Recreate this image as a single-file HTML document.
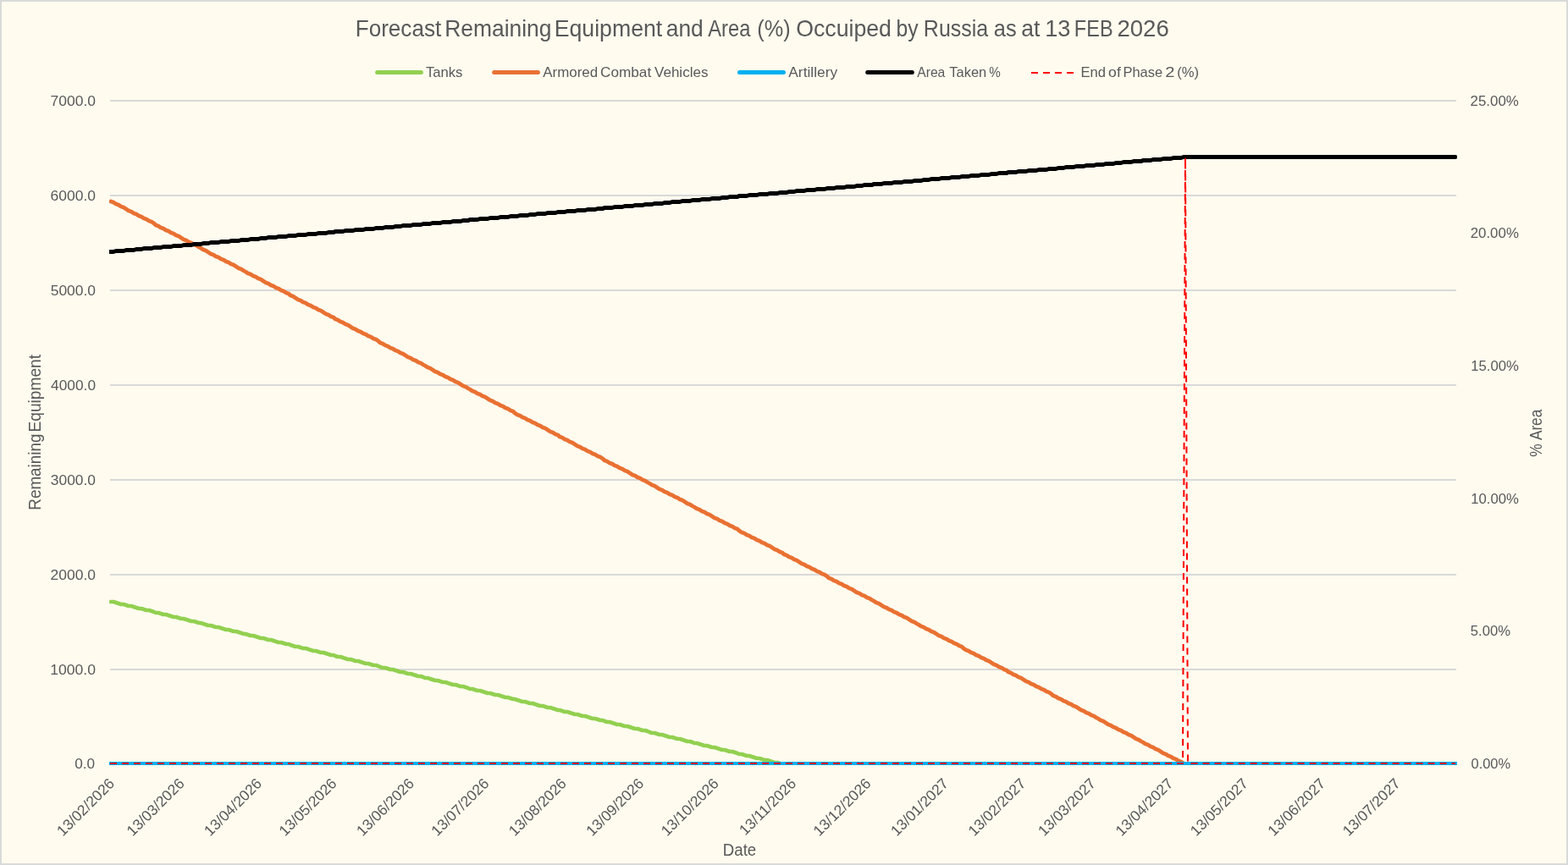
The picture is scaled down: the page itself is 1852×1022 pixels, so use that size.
<!DOCTYPE html>
<html lang="en"><head><meta charset="utf-8">
<title>Forecast Remaining Equipment and Area (%) Occuiped by Russia as at 13 FEB 2026</title>
<style>
html,body{margin:0;padding:0;background:#FFFBEF;}
body{width:1852px;height:1022px;overflow:hidden;}
svg{display:block;font-family:"Liberation Sans", Arial, sans-serif;}
text{fill:#595959;}
.t{font-size:27.3px;}
.lg{font-size:16.6px;}
.ax{font-size:17.0px;}
.at{font-size:20.5px;}
.s{fill:none;stroke-width:4.4;stroke-linecap:round;stroke-linejoin:round;}
</style></head><body>
<svg width="1852" height="1022" viewBox="0 0 1852 1022" role="img" aria-label="Forecast Remaining Equipment and Area (%) Occuiped by Russia as at 13 FEB 2026">
<rect x="0" y="0" width="1852" height="1022" fill="#D9D9D9"/>
<rect x="2" y="2" width="1848" height="1018" fill="#FFFBEF"/>
<text class="t" y="42.8"><tspan x="419.75" textLength="101.44" lengthAdjust="spacingAndGlyphs">Forecast</tspan> <tspan x="525.22" textLength="126.27" lengthAdjust="spacingAndGlyphs">Remaining</tspan> <tspan x="654.70" textLength="127.54" lengthAdjust="spacingAndGlyphs">Equipment</tspan> <tspan x="786.71" textLength="44.02" lengthAdjust="spacingAndGlyphs">and</tspan> <tspan x="836.29" textLength="50.05" lengthAdjust="spacingAndGlyphs">Area</tspan> <tspan x="894.28" textLength="39.30" lengthAdjust="spacingAndGlyphs">(%)</tspan> <tspan x="940.18" textLength="112.81" lengthAdjust="spacingAndGlyphs">Occuiped</tspan> <tspan x="1058.52" textLength="26.07" lengthAdjust="spacingAndGlyphs">by</tspan> <tspan x="1090.84" textLength="76.42" lengthAdjust="spacingAndGlyphs">Russia</tspan> <tspan x="1173.85" textLength="26.85" lengthAdjust="spacingAndGlyphs">as</tspan> <tspan x="1206.21" textLength="22.13" lengthAdjust="spacingAndGlyphs">at</tspan> <tspan x="1234.18" textLength="30.26" lengthAdjust="spacingAndGlyphs">13</tspan> <tspan x="1268.86" textLength="45.70" lengthAdjust="spacingAndGlyphs">FEB</tspan> <tspan x="1319.41" textLength="61.34" lengthAdjust="spacingAndGlyphs">2026</tspan></text>
<line class="s" style="stroke-width:5" x1="445.6" y1="85.5" x2="497.4" y2="85.5" stroke="#92D050"/>
<line class="s" style="stroke-width:5" x1="583.7" y1="85.5" x2="635.4" y2="85.5" stroke="#E97132"/>
<line class="s" style="stroke-width:5" x1="873.5" y1="85.5" x2="925.5" y2="85.5" stroke="#00B0F0"/>
<line class="s" style="stroke-width:5" x1="1024.7" y1="85.5" x2="1077.3" y2="85.5" stroke="#000000"/>
<line x1="1218" y1="85.9" x2="1268" y2="85.9" stroke="#FF0000" stroke-width="2" stroke-dasharray="8 6"/>
<g class="lg">
<text y="90.6"><tspan x="502.92" textLength="43.49" lengthAdjust="spacingAndGlyphs">Tanks</tspan></text>
<text y="90.6"><tspan x="641.30" textLength="64.86" lengthAdjust="spacingAndGlyphs">Armored</tspan> <tspan x="709.09" textLength="60.12" lengthAdjust="spacingAndGlyphs">Combat</tspan> <tspan x="772.97" textLength="63.51" lengthAdjust="spacingAndGlyphs">Vehicles</tspan></text>
<text y="90.6"><tspan x="931.30" textLength="57.78" lengthAdjust="spacingAndGlyphs">Artillery</tspan></text>
<text y="90.6"><tspan x="1083.20" textLength="33.16" lengthAdjust="spacingAndGlyphs">Area</tspan> <tspan x="1121.33" textLength="43.89" lengthAdjust="spacingAndGlyphs">Taken</tspan> <tspan x="1168.33" textLength="13.56" lengthAdjust="spacingAndGlyphs">%</tspan></text>
<text y="90.6"><tspan x="1276.53" textLength="29.53" lengthAdjust="spacingAndGlyphs">End</tspan> <tspan x="1309.11" textLength="14.66" lengthAdjust="spacingAndGlyphs">of</tspan> <tspan x="1326.43" textLength="46.77" lengthAdjust="spacingAndGlyphs">Phase</tspan> <tspan x="1376.34" textLength="11.20" lengthAdjust="spacingAndGlyphs">2</tspan> <tspan x="1390.30" textLength="25.87" lengthAdjust="spacingAndGlyphs">(%)</tspan></text>
</g>
<g fill="#D9D9D9">
<rect x="130" y="790" width="1590" height="2"/>
<rect x="130" y="678" width="1590" height="2"/>
<rect x="130" y="566" width="1590" height="2"/>
<rect x="130" y="454" width="1590" height="2"/>
<rect x="130" y="342" width="1590" height="2"/>
<rect x="130" y="230" width="1590" height="2"/>
<rect x="130" y="118" width="1590" height="2"/>
</g>
<g class="ax">
<text transform="matrix(1.0101 0 0 1 88.17 908)">0.0</text>
<text transform="matrix(1.0354 0 0 1 59.21 797)">1000.0</text>
<text transform="matrix(1.0277 0 0 1 59.60 685)">2000.0</text>
<text transform="matrix(1.0227 0 0 1 59.86 573)">3000.0</text>
<text transform="matrix(1.0176 0 0 1 60.12 461)">4000.0</text>
<text transform="matrix(1.0252 0 0 1 59.73 349)">5000.0</text>
<text transform="matrix(1.0277 0 0 1 59.60 237)">6000.0</text>
<text transform="matrix(1.0277 0 0 1 59.60 125)">7000.0</text>
<text transform="matrix(0.9681 0 0 1 1737.49 908)">0.00%</text>
<text transform="matrix(0.9792 0 0 1 1736.77 751)">5.00%</text>
<text transform="matrix(0.9848 0 0 1 1737.17 595)">10.00%</text>
<text transform="matrix(0.9865 0 0 1 1737.17 438)">15.00%</text>
<text transform="matrix(0.9942 0 0 1 1736.63 281)">20.00%</text>
<text transform="matrix(0.9960 0 0 1 1736.53 125)">25.00%</text>
</g>
<svg x="129" y="100" width="1592" height="804" viewBox="129 100 1592 804" overflow="hidden">
<polyline class="s" points="131,711 134,711 137,712 140,713 143,714 146,714 149,715 152,716 155,716 158,717 161,718 164,719 167,719 170,720 173,721 176,721 179,722 182,723 184,724 187,724 190,725 193,726 196,726 199,727 202,728 205,729 208,729 211,730 214,731 217,731 220,732 223,733 226,734 229,734 232,735 235,736 237,736 240,737 243,738 246,739 249,739 252,740 255,741 258,741 261,742 264,743 267,744 270,744 273,745 276,746 279,746 282,747 285,748 288,749 290,749 293,750 296,751 299,751 302,752 305,753 308,754 311,754 314,755 317,756 320,756 323,757 326,758 329,759 332,759 335,760 338,761 341,761 343,762 346,763 349,764 352,764 355,765 358,766 361,766 364,767 367,768 370,769 373,769 376,770 379,771 382,771 385,772 388,773 391,774 394,774 396,775 399,776 402,776 405,777 408,778 411,779 414,779 417,780 420,781 423,781 426,782 429,783 432,784 435,784 438,785 441,786 444,786 447,787 449,788 452,789 455,789 458,790 461,791 464,791 467,792 470,793 473,794 476,794 479,795 482,796 485,796 488,797 491,798 494,799 497,799 500,800 502,801 505,801 508,802 511,803 514,804 517,804 520,805 523,806 526,806 529,807 532,808 535,809 538,809 541,810 544,811 547,811 550,812 553,813 555,814 558,814 561,815 564,816 567,816 570,817 573,818 576,819 579,819 582,820 585,821 588,821 591,822 594,823 597,824 600,824 603,825 606,826 608,826 611,827 614,828 617,829 620,829 623,830 626,831 629,831 632,832 635,833 638,834 641,834 644,835 647,836 650,836 653,837 656,838 659,839 661,839 664,840 667,841 670,841 673,842 676,843 679,844 682,844 685,845 688,846 691,846 694,847 697,848 700,849 703,849 706,850 709,851 712,851 714,852 717,853 720,853 723,854 726,855 729,856 732,856 735,857 738,858 741,858 744,859 747,860 750,861 753,861 756,862 759,863 762,863 765,864 767,865 770,866 773,866 776,867 779,868 782,868 785,869 788,870 791,871 794,871 797,872 800,873 803,873 806,874 809,875 812,876 815,876 818,877 820,878 823,878 826,879 829,880 832,881 835,881 838,882 841,883 844,883 847,884 850,885 853,886 856,886 859,887 862,888 865,888 868,889 871,890 873,891 876,891 879,892 882,893 885,893 888,894 891,895 894,896 897,896 900,897 903,898 906,898 909,899 912,900 915,901 918,901 921,902" stroke="#92D050" style="stroke-width:4.7"/>
<polyline class="s" points="131,238 134,239 137,241 140,242 143,244 146,245 149,247 152,249 155,250 158,252 161,253 164,255 167,256 170,258 173,259 176,261 179,262 182,264 184,266 187,267 190,269 193,270 196,272 199,273 202,275 205,276 208,278 211,279 214,281 217,283 220,284 223,286 226,287 229,289 232,290 235,292 237,293 240,295 243,296 246,298 249,300 252,301 255,303 258,304 261,306 264,307 267,309 270,310 273,312 276,313 279,315 282,317 285,318 288,320 290,321 293,323 296,324 299,326 302,327 305,329 308,330 311,332 314,334 317,335 320,337 323,338 326,340 329,341 332,343 335,344 338,346 341,347 343,349 346,350 349,352 352,354 355,355 358,357 361,358 364,360 367,361 370,363 373,364 376,366 379,367 382,369 385,371 388,372 391,374 394,375 396,377 399,378 402,380 405,381 408,383 411,384 414,386 417,388 420,389 423,391 426,392 429,394 432,395 435,397 438,398 441,400 444,401 447,403 449,405 452,406 455,408 458,409 461,411 464,412 467,414 470,415 473,417 476,418 479,420 482,422 485,423 488,425 491,426 494,428 497,429 500,431 502,432 505,434 508,435 511,437 514,439 517,440 520,442 523,443 526,445 529,446 532,448 535,449 538,451 541,452 544,454 547,456 550,457 553,459 555,460 558,462 561,463 564,465 567,466 570,468 573,469 576,471 579,473 582,474 585,476 588,477 591,479 594,480 597,482 600,483 603,485 606,486 608,488 611,490 614,491 617,493 620,494 623,496 626,497 629,499 632,500 635,502 638,503 641,505 644,506 647,508 650,510 653,511 656,513 659,514 661,516 664,517 667,519 670,520 673,522 676,523 679,525 682,527 685,528 688,530 691,531 694,533 697,534 700,536 703,537 706,539 709,540 712,542 714,544 717,545 720,547 723,548 726,550 729,551 732,553 735,554 738,556 741,557 744,559 747,561 750,562 753,564 756,565 759,567 762,568 765,570 767,571 770,573 773,574 776,576 779,578 782,579 785,581 788,582 791,584 794,585 797,587 800,588 803,590 806,591 809,593 812,595 815,596 818,598 820,599 823,601 826,602 829,604 832,605 835,607 838,608 841,610 844,612 847,613 850,615 853,616 856,618 859,619 862,621 865,622 868,624 871,625 873,627 876,629 879,630 882,632 885,633 888,635 891,636 894,638 897,639 900,641 903,642 906,644 909,645 912,647 915,649 918,650 921,652 924,653 926,655 929,656 932,658 935,659 938,661 941,662 944,664 947,666 950,667 953,669 956,670 959,672 962,673 965,675 968,676 971,678 974,679 977,681 979,683 982,684 985,686 988,687 991,689 994,690 997,692 1000,693 1003,695 1006,696 1009,698 1012,700 1015,701 1018,703 1021,704 1024,706 1027,707 1030,709 1032,710 1035,712 1038,713 1041,715 1044,717 1047,718 1050,720 1053,721 1056,723 1059,724 1062,726 1065,727 1068,729 1071,730 1074,732 1077,734 1080,735 1083,737 1085,738 1088,740 1091,741 1094,743 1097,744 1100,746 1103,747 1106,749 1109,751 1112,752 1115,754 1118,755 1121,757 1124,758 1127,760 1130,761 1133,763 1136,764 1138,766 1141,768 1144,769 1147,771 1150,772 1153,774 1156,775 1159,777 1162,778 1165,780 1168,781 1171,783 1174,785 1177,786 1180,788 1183,789 1186,791 1189,792 1191,794 1194,795 1197,797 1200,798 1203,800 1206,801 1209,803 1212,805 1215,806 1218,808 1221,809 1224,811 1227,812 1230,814 1233,815 1236,817 1239,818 1242,820 1244,822 1247,823 1250,825 1253,826 1256,828 1259,829 1262,831 1265,832 1268,834 1271,835 1274,837 1277,839 1280,840 1283,842 1286,843 1289,845 1292,846 1295,848 1297,849 1300,851 1303,852 1306,854 1309,856 1312,857 1315,859 1318,860 1321,862 1324,863 1327,865 1330,866 1333,868 1336,869 1339,871 1342,873 1345,874 1348,876 1350,877 1353,879 1356,880 1359,882 1362,883 1365,885 1368,886 1371,888 1374,890 1377,891 1380,893 1383,894 1386,896 1389,897 1392,899 1395,900 1398,902" stroke="#E97132" style="stroke-width:4.7"/>
<line x1="129" y1="902" x2="1721" y2="902" stroke="#00B0F0" stroke-width="4"/>
<polyline class="s" points="126,297.5 131,297.5 134,297.5 137,296.5 140,296.5 143,296.5 146,296.5 149,295.5 152,295.5 155,295.5 158,295.5 161,294.5 164,294.5 167,294.5 170,293.5 173,293.5 176,293.5 179,293.5 182,292.5 184,292.5 187,292.5 190,292.5 193,291.5 196,291.5 199,291.5 202,291.5 205,290.5 208,290.5 211,290.5 214,290.5 217,289.5 220,289.5 223,289.5 226,289.5 229,288.5 232,288.5 235,288.5 237,288.5 240,287.5 243,287.5 246,287.5 249,286.5 252,286.5 255,286.5 258,286.5 261,285.5 264,285.5 267,285.5 270,285.5 273,284.5 276,284.5 279,284.5 282,284.5 285,283.5 288,283.5 290,283.5 293,283.5 296,282.5 299,282.5 302,282.5 305,282.5 308,281.5 311,281.5 314,281.5 317,280.5 320,280.5 323,280.5 326,280.5 329,279.5 332,279.5 335,279.5 338,279.5 341,278.5 343,278.5 346,278.5 349,278.5 352,277.5 355,277.5 358,277.5 361,277.5 364,276.5 367,276.5 370,276.5 373,276.5 376,275.5 379,275.5 382,275.5 385,275.5 388,274.5 391,274.5 394,274.5 396,273.5 399,273.5 402,273.5 405,273.5 408,272.5 411,272.5 414,272.5 417,272.5 420,271.5 423,271.5 426,271.5 429,271.5 432,270.5 435,270.5 438,270.5 441,270.5 444,269.5 447,269.5 449,269.5 452,269.5 455,268.5 458,268.5 461,268.5 464,268.5 467,267.5 470,267.5 473,267.5 476,266.5 479,266.5 482,266.5 485,266.5 488,265.5 491,265.5 494,265.5 497,265.5 500,264.5 502,264.5 505,264.5 508,264.5 511,263.5 514,263.5 517,263.5 520,263.5 523,262.5 526,262.5 529,262.5 532,262.5 535,261.5 538,261.5 541,261.5 544,261.5 547,260.5 550,260.5 553,260.5 555,259.5 558,259.5 561,259.5 564,259.5 567,258.5 570,258.5 573,258.5 576,258.5 579,257.5 582,257.5 585,257.5 588,257.5 591,256.5 594,256.5 597,256.5 600,256.5 603,255.5 606,255.5 608,255.5 611,255.5 614,254.5 617,254.5 620,254.5 623,254.5 626,253.5 629,253.5 632,253.5 635,252.5 638,252.5 641,252.5 644,252.5 647,251.5 650,251.5 653,251.5 656,251.5 659,250.5 661,250.5 664,250.5 667,250.5 670,249.5 673,249.5 676,249.5 679,249.5 682,248.5 685,248.5 688,248.5 691,248.5 694,247.5 697,247.5 700,247.5 703,247.5 706,246.5 709,246.5 712,246.5 714,245.5 717,245.5 720,245.5 723,245.5 726,244.5 729,244.5 732,244.5 735,244.5 738,243.5 741,243.5 744,243.5 747,243.5 750,242.5 753,242.5 756,242.5 759,242.5 762,241.5 765,241.5 767,241.5 770,241.5 773,240.5 776,240.5 779,240.5 782,240.5 785,239.5 788,239.5 791,239.5 794,238.5 797,238.5 800,238.5 803,238.5 806,237.5 809,237.5 812,237.5 815,237.5 818,236.5 820,236.5 823,236.5 826,236.5 829,235.5 832,235.5 835,235.5 838,235.5 841,234.5 844,234.5 847,234.5 850,234.5 853,233.5 856,233.5 859,233.5 862,232.5 865,232.5 868,232.5 871,232.5 873,231.5 876,231.5 879,231.5 882,231.5 885,230.5 888,230.5 891,230.5 894,230.5 897,229.5 900,229.5 903,229.5 906,229.5 909,228.5 912,228.5 915,228.5 918,228.5 921,227.5 924,227.5 926,227.5 929,227.5 932,226.5 935,226.5 938,226.5 941,225.5 944,225.5 947,225.5 950,225.5 953,224.5 956,224.5 959,224.5 962,224.5 965,223.5 968,223.5 971,223.5 974,223.5 977,222.5 979,222.5 982,222.5 985,222.5 988,221.5 991,221.5 994,221.5 997,221.5 1000,220.5 1003,220.5 1006,220.5 1009,220.5 1012,219.5 1015,219.5 1018,219.5 1021,218.5 1024,218.5 1027,218.5 1030,218.5 1032,217.5 1035,217.5 1038,217.5 1041,217.5 1044,216.5 1047,216.5 1050,216.5 1053,216.5 1056,215.5 1059,215.5 1062,215.5 1065,215.5 1068,214.5 1071,214.5 1074,214.5 1077,214.5 1080,213.5 1083,213.5 1085,213.5 1088,213.5 1091,212.5 1094,212.5 1097,212.5 1100,211.5 1103,211.5 1106,211.5 1109,211.5 1112,210.5 1115,210.5 1118,210.5 1121,210.5 1124,209.5 1127,209.5 1130,209.5 1133,209.5 1136,208.5 1138,208.5 1141,208.5 1144,208.5 1147,207.5 1150,207.5 1153,207.5 1156,207.5 1159,206.5 1162,206.5 1165,206.5 1168,206.5 1171,205.5 1174,205.5 1177,205.5 1180,204.5 1183,204.5 1186,204.5 1189,204.5 1191,203.5 1194,203.5 1197,203.5 1200,203.5 1203,202.5 1206,202.5 1209,202.5 1212,202.5 1215,201.5 1218,201.5 1221,201.5 1224,201.5 1227,200.5 1230,200.5 1233,200.5 1236,200.5 1239,199.5 1242,199.5 1244,199.5 1247,199.5 1250,198.5 1253,198.5 1256,198.5 1259,197.5 1262,197.5 1265,197.5 1268,197.5 1271,196.5 1274,196.5 1277,196.5 1280,196.5 1283,195.5 1286,195.5 1289,195.5 1292,195.5 1295,194.5 1297,194.5 1300,194.5 1303,194.5 1306,193.5 1309,193.5 1312,193.5 1315,193.5 1318,192.5 1321,192.5 1324,192.5 1327,191.5 1330,191.5 1333,191.5 1336,191.5 1339,190.5 1342,190.5 1345,190.5 1348,190.5 1350,189.5 1353,189.5 1356,189.5 1359,189.5 1362,188.5 1365,188.5 1368,188.5 1371,188.5 1374,187.5 1377,187.5 1380,187.5 1383,187.5 1386,186.5 1389,186.5 1392,186.5 1395,186.5 1398,185.5 1401,185.5 1718.8,185.5" stroke="#000000" style="stroke-width:5"/>
<polyline points="130.00,902.00 1397.00,902.00 1400.00,186.30 1403.00,902.00 1719.00,902.00" fill="none" stroke="#FF0000" stroke-width="2" stroke-dasharray="8 6" stroke-linejoin="round"/>
</svg>
<g class="ax" style="font-size:17.5px" text-anchor="end">
<text transform="translate(136.20 926.80) rotate(-45)">13/02/2026</text>
<text transform="translate(218.77 926.80) rotate(-45)">13/03/2026</text>
<text transform="translate(310.19 926.80) rotate(-45)">13/04/2026</text>
<text transform="translate(398.66 926.80) rotate(-45)">13/05/2026</text>
<text transform="translate(490.08 926.80) rotate(-45)">13/06/2026</text>
<text transform="translate(578.55 926.80) rotate(-45)">13/07/2026</text>
<text transform="translate(669.97 926.80) rotate(-45)">13/08/2026</text>
<text transform="translate(761.39 926.80) rotate(-45)">13/09/2026</text>
<text transform="translate(849.86 926.80) rotate(-45)">13/10/2026</text>
<text transform="translate(941.28 926.80) rotate(-45)">13/11/2026</text>
<text transform="translate(1029.75 926.80) rotate(-45)">13/12/2026</text>
<text transform="translate(1121.17 926.80) rotate(-45)">13/01/2027</text>
<text transform="translate(1212.59 926.80) rotate(-45)">13/02/2027</text>
<text transform="translate(1295.16 926.80) rotate(-45)">13/03/2027</text>
<text transform="translate(1386.58 926.80) rotate(-45)">13/04/2027</text>
<text transform="translate(1475.05 926.80) rotate(-45)">13/05/2027</text>
<text transform="translate(1566.46 926.80) rotate(-45)">13/06/2027</text>
<text transform="translate(1654.93 926.80) rotate(-45)">13/07/2027</text>
</g>
<g class="at">
<text y="1011.1"><tspan x="853.82" textLength="39.43" lengthAdjust="spacingAndGlyphs">Date</tspan></text>
<text transform="translate(48.2 601.2) rotate(-90)"><tspan x="-1.50" textLength="90.16" lengthAdjust="spacingAndGlyphs">Remaining</tspan> <tspan x="90.68" textLength="91.55" lengthAdjust="spacingAndGlyphs">Equipment</tspan></text>
<text transform="translate(1821.1 539.1) rotate(-90)"><tspan x="-0.63" textLength="15.35" lengthAdjust="spacingAndGlyphs">%</tspan> <tspan x="19.10" textLength="36.16" lengthAdjust="spacingAndGlyphs">Area</tspan></text>
</g>
</svg>
</body></html>
